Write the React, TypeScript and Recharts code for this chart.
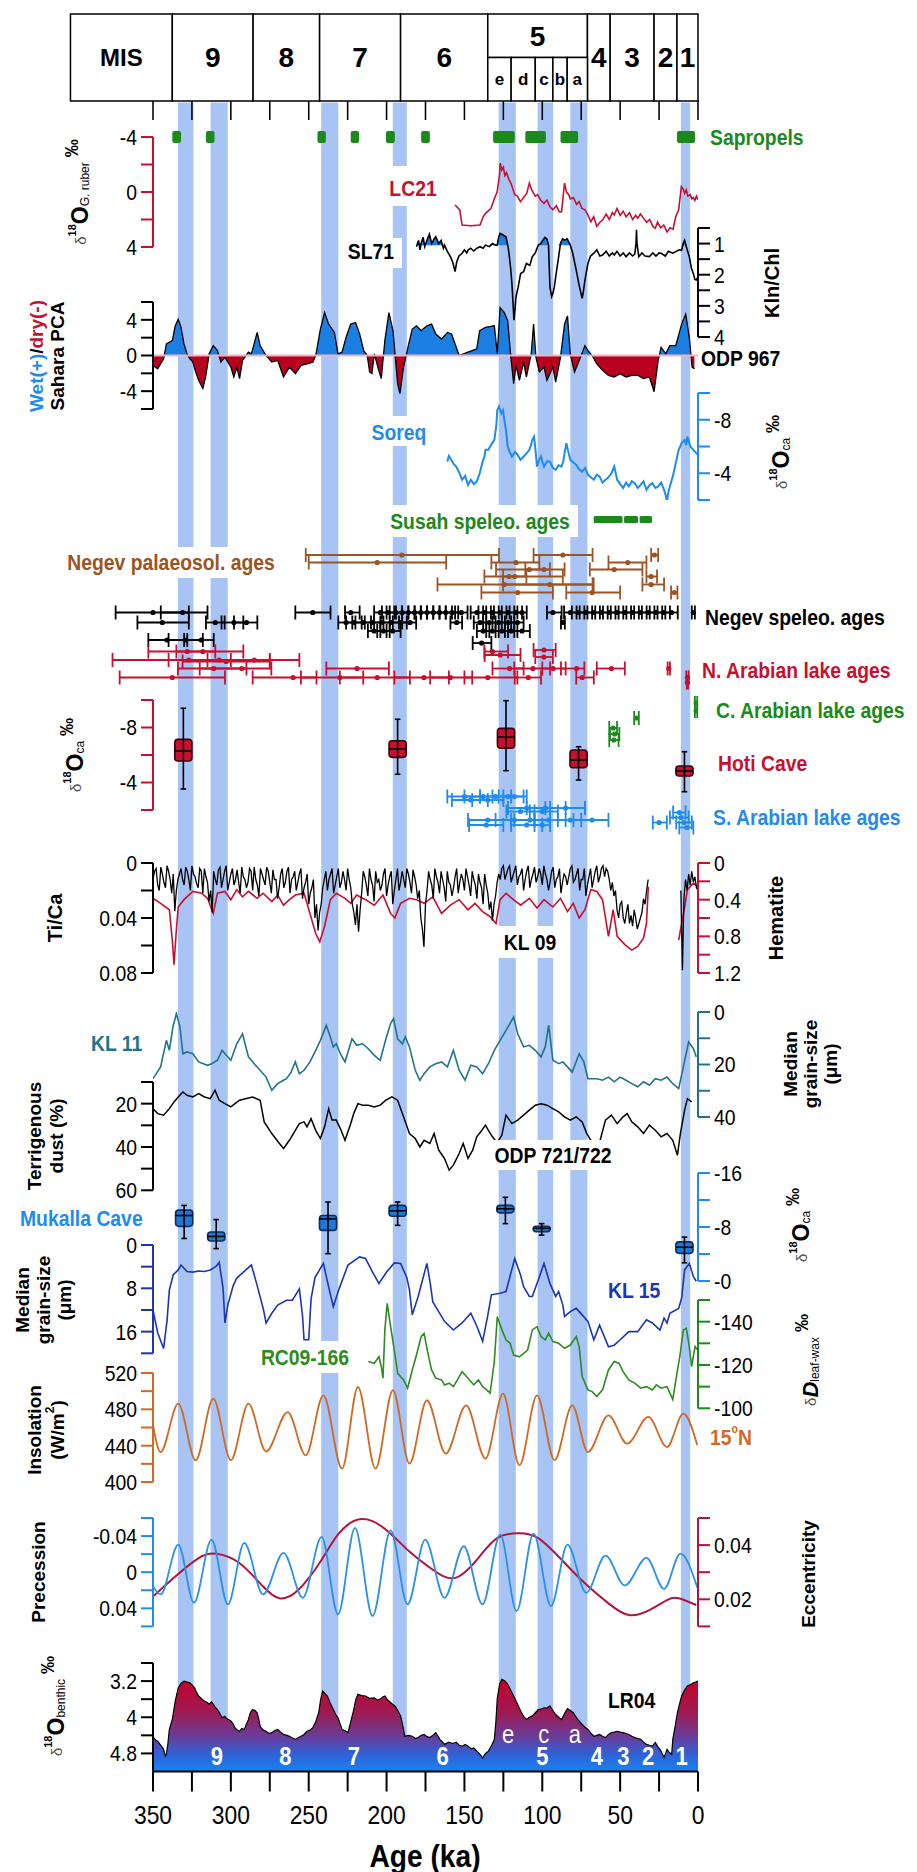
import React from 'react';
import { ComposedChart, Line, Area, XAxis, YAxis, ReferenceArea, ReferenceLine, Scatter, ErrorBar } from 'recharts';

const FONT_N = "'Liberation Sans',Arial,Helvetica,sans-serif";
const FONT_W = "'Liberation Sans',Arial,Helvetica,sans-serif";
const NARROW = 0.88;
const PAGE_W = 917;
const PLOT_L = 153;
const PLOT_R = 698;
const PX_PER_KA = (PLOT_R - PLOT_L) / 350;

const RED = '#c8102e';
const BLUE = '#1f8bef';
const GREEN = '#1b8a1b';
const BROWN = '#9c5424';
const TEAL = '#22738a';
const NAVY = '#1d35b5';
const ORANGE = '#cf6a26';
const BAND = '#a7c4f5';

// ---------- categories / ticks ----------
const axisTicks = [0, 25, 50, 75, 100, 125, 150, 175, 200, 225, 250, 275, 300, 325, 350];
const misNames = ['MIS', '9', '8', '7', '6', '5', '4', '3', '2', '1'];
const misOld = [403, 337.6, 285.7, 243, 191, 135, 71, 56.4, 28.2, 13.5];
const misYoung = [337.6, 285.7, 243, 191, 135, 71, 56.4, 28.2, 13.5, 0];
const subNames = ['e', 'd', 'c', 'b', 'a'];
const subOld = [135, 120, 104.5, 93.2, 84];
const subYoung = [120, 104.5, 93.2, 84, 71];
const bandOld = [334, 313, 242, 196, 128, 103, 82, 11];
const bandYoung = [324, 302, 231, 187, 117, 93, 71, 5];
const sapOld = [337.6, 316, 244.4, 223, 200.4, 177.8, 131.6, 110.9, 88.3, 13.5];
const sapYoung = [332, 310.5, 239, 217.7, 194.7, 172.2, 117.7, 97.7, 77, 1.9];
const lrStageNames = ['9', '8', '7', '6', '5', '4', '3', '2', '1'];
const lrStageAge = [309, 265, 221, 164, 100, 65, 48, 32, 10.5];
const lrSubNames = ['e', 'c', 'a'];
const lrSubAge = [122, 99, 79];

// ---------- series ----------
const lc21 = [[156,0.95],[153,1.3],[151.5,2.4],[146,2.45],[140,2.4],[138,1.8],[136.5,1.55],[133,1.2],[130.5,0.4],[129,0.0],[127.5,-1.2],[127,-2.1],[126,-1.6],[125,-1.8],[124,-1.2],[123,-1.4],[121.4,-0.9],[120,-0.6],[118.5,-0.1],[117.7,0.2],[116,0.3],[114,0.7],[112,0.4],[110,0.1],[108.3,-0.65],[107,-0.2],[105.5,0.1],[104.5,0.3],[103,0.2],[101,0.6],[98.9,0.82],[97,0.6],[95,1.1],[93.2,1.3],[91,1.0],[89,1.45],[87.6,1.43],[86.5,0.2],[85.7,-0.65],[84.5,0.0],[83,0.2],[82,0.5],[80,0.4],[78,0.9],[76.3,0.7],[74.5,1.2],[72.6,1.3],[71,1.6],[68.8,2.16],[67,1.8],[65,2.5],[63,2.2],[61.3,2.04],[59,1.6],[57,2.0],[55,1.5],[53.8,1.67],[52,1.2],[50,1.7],[48,1.4],[46.2,1.8],[44,1.5],[42,2.0],[40,1.7],[38.7,1.9],[37,1.6],[35,1.9],[33,2.2],[31,2.0],[29,2.5],[27.4,2.64],[26,2.2],[24,2.6],[22,2.4],[19.9,2.9],[18,2.6],[16,2.7],[14.3,1.8],[12.4,1.3],[11.5,0.4],[10.7,-0.39],[9.5,-0.2],[8.5,0.1],[7.5,-0.15],[6.5,0.3],[5,0.2],[4,0.5],[3,0.4],[2,0.6],[1,0.3],[0,0.55]];

const sl71 = [[180.8,1.1],[179.5,0.9],[178.5,1.2],[177.8,0.99],[176.5,0.8],[175.5,1.1],[174,0.89],[172.5,0.7],[171,1.0],[169.5,0.85],[168.4,0.78],[166.5,1.0],[165,0.9],[163.5,1.15],[162.8,1.05],[161,1.25],[159,1.42],[157.5,1.6],[156,1.9],[155,1.6],[153.5,1.4],[151.5,1.31],[150,1.2],[148.5,1.3],[147.7,1.21],[146,1.15],[144,1.24],[142,1.15],[140,1.1],[138,1.15],[136.5,1.05],[134,1.1],[132,1.0],[130,1.05],[129,1.05],[128,0.8],[127.1,0.67],[126,0.7],[124.5,0.75],[123.3,0.78],[122,1.1],[121.4,1.31],[120.3,1.8],[119.5,2.28],[118.8,2.9],[118.2,3.46],[117.5,3.1],[116.9,2.71],[115.5,2.4],[113.9,1.96],[112,1.9],[110.2,1.64],[108,1.7],[106.4,1.42],[104.5,1.3],[102.6,1.05],[101,1.0],[99.6,0.89],[98.3,0.8],[97,0.85],[96,1.05],[95.1,2.39],[94,2.7],[93.2,2.6],[92.3,2.4],[91.4,2.07],[90,1.6],[88.3,0.99],[87,0.85],[85.7,0.89],[84,0.85],[82,1.05],[80.5,1.3],[78.2,1.85],[76.5,2.3],[74.4,2.76],[73.5,2.5],[72.6,2.17],[70.7,1.64],[69,1.4],[66.9,1.31],[65,1.2],[63,1.4],[61.3,1.37],[59,1.25],[57,1.4],[55,1.3],[53.8,1.37],[52,1.25],[50,1.4],[48,1.3],[46.2,1.42],[44,1.3],[42,1.4],[40.6,1.34],[39.8,1.0],[39.5,0.56],[39.2,1.0],[38,1.42],[36,1.3],[34,1.4],[31.2,1.42],[29,1.3],[27,1.4],[25,1.3],[23.7,1.31],[21,1.4],[19,1.25],[16.2,1.31],[14,1.25],[12,1.2],[10.5,1.21],[9.5,1.0],[8.6,0.89],[7.5,1.1],[5.6,1.42],[4.2,1.8],[3,1.96],[2,2.15],[1.1,2.17],[0,2.07]];
const SL71_FILL_LEVEL = 1.05;

const pca = [[350,-1.11],[347,-1.48],[343.2,-0.37],[341.4,1.3],[337.6,1.67],[335.7,3.33],[333.8,4.07],[332,3.15],[330.1,1.3],[328.2,0.19],[326.3,-0.37],[324.4,-0.74],[322.6,-1.85],[320.7,-2.78],[318,-3.7],[316.2,-2.41],[313.9,0.19],[311.3,1.11],[308.6,0.56],[306.4,-0.74],[303.8,-0.19],[300,-1.3],[298.1,-2.41],[296.2,-1.3],[294.4,-2.59],[292.5,-0.56],[288.7,0.37],[286.8,0.19],[283.1,2.59],[281.2,1.11],[277.4,0],[273.7,-0.74],[269.9,-0.56],[266.2,-2.41],[262.4,-1.3],[258.6,-2.04],[254.9,-1.11],[251.1,-0.93],[247.4,-0.74],[245.5,0],[242.5,2.96],[239.8,4.81],[237.2,3.52],[233.5,2.59],[231.2,0.19],[228.6,0.37],[226,2.04],[223,3.52],[219.9,3.7],[217.3,2.41],[214.7,0.56],[212.4,0],[210.9,-1.85],[209.4,-2.04],[207.9,0.19],[205,-1.67],[203.4,-2.59],[201.1,1.67],[198.5,4.81],[195.9,2.78],[192.9,-3.15],[191.4,-4.26],[189.1,-1.3],[185.3,1.67],[183.5,2.96],[180.8,3.33],[177.8,2.78],[174.1,3.33],[171.1,3.52],[168.4,2.41],[164.7,1.85],[160.9,2.59],[158.3,2.41],[156,1.3],[153.4,0],[147.7,0.37],[142.1,0.74],[140.2,2.78],[136.5,3.15],[130.8,3.33],[128.9,0.19],[127.1,5.37],[124.4,4.81],[122.2,3.89],[120.3,0],[118.4,-3.15],[116.9,-1.11],[114.7,-2.78],[112,-0.74],[110.2,-2.41],[107.1,0.19],[105.6,3.52],[104.1,-0.19],[101.9,-1.85],[98.9,-1.3],[97,-2.78],[93.2,-1.3],[91.4,-3.0],[88.3,-0.19],[85.7,3.52],[83.8,4.44],[82,0.19],[79.3,-1.85],[76.3,-0.56],[72.6,1.11],[70.7,0.56],[68,0],[65,-0.93],[61.3,-1.67],[57.5,-2.22],[53.8,-2.41],[50,-2.04],[46.2,-2.41],[42.5,-2.22],[38.7,-2.22],[35,-2.59],[31.2,-2.41],[28.2,-4.07],[25.6,-0.56],[23.7,0.93],[20.7,0.19],[18.1,1.11],[14.3,1.11],[10.5,3.52],[7.9,4.63],[5.6,2.04],[3.8,-1.3],[2.3,-1.48]];

const soreq = [[161,-4.87],[160,-5.3],[159,-5.12],[157,-4.7],[155.3,-4.5],[153.5,-4.1],[151.5,-3.51],[149.5,-3.8],[147.7,-3.13],[145.9,-3.51],[144,-3.2],[142.1,-3.38],[140.2,-4.0],[138.3,-4.87],[137,-5.3],[136.5,-5.75],[134.6,-5.75],[132.5,-6.2],[130.8,-6.5],[129.5,-7.6],[128.9,-8.73],[127.8,-8.98],[126.3,-8.48],[125.2,-8.7],[124.4,-7.99],[123.3,-7.2],[122.2,-5.99],[121,-5.6],[119.5,-5.25],[117.5,-5.6],[115.8,-5.37],[114,-5.0],[112,-5.25],[110,-5.5],[108.3,-5.75],[107.2,-6.1],[106.4,-6.5],[105.3,-6.74],[104.4,-5.8],[103.4,-4.5],[102,-5.0],[100.8,-5.25],[99.8,-4.8],[98.9,-4.5],[97,-4.9],[95.1,-4.87],[93.2,-4.4],[91.4,-4.25],[89.5,-4.6],[87.6,-4.5],[86.5,-4.9],[85.7,-5.5],[84.5,-6.25],[83.3,-5.6],[82,-5.0],[80,-4.8],[78.2,-4.63],[76.3,-4.3],[74.4,-4.13],[72.5,-4.4],[70.7,-3.88],[68.8,-3.7],[66.9,-3.51],[65,-3.9],[63.2,-3.75],[61.3,-3.3],[59.4,-3.51],[57.5,-3.7],[55.6,-4.0],[53.8,-4.5],[51.9,-3.51],[50,-3.2],[48.1,-2.89],[46.2,-3.3],[44.4,-3.01],[42.5,-3.4],[40.6,-3.26],[38.7,-2.9],[36.8,-3.13],[35,-3.4],[33.1,-2.76],[31.2,-3.1],[29.3,-3.26],[27.4,-2.9],[25.6,-3.01],[23.7,-3.3],[21.8,-2.76],[20.8,-2.4],[19.9,-1.89],[19,-2.6],[18.1,-3.01],[16.2,-3.75],[14.3,-4.75],[12.4,-5.75],[10.5,-6.25],[8.6,-6.49],[7.6,-6.1],[6.8,-6.74],[4.9,-5.99],[3,-5.75],[1.1,-5.5],[0,-5.37]];

// age bars: [older, younger, mid, row]
const susahOld = [67, 47.5, 37.5];
const susahYoung = [48.5, 38.5, 29.5];
const negevPalaeo = [[251.9,127.8,190.2,10],[105.6,67.7,86.8,10],[30.1,25.6,28,10],[250,161.7,206,11.5],[132.7,101.9,116.9,11.5],[57.5,33.1,45.1,11.5],[129.7,85.7,108.3,12.9],[110.9,95.1,98.9,12.9],[69.5,35.7,53.8,12.9],[137.2,86.8,121.4,14.3],[125.2,110.2,117.7,14.3],[33.1,26.3,30.1,14.3],[167.3,67,124.4,15.9],[125.2,67.7,95.1,15.9],[35.7,21.8,30.1,15.9],[139.1,93.2,115.8,17.5],[84.6,50,68,17.5],[17.3,13.2,15.2,17.5]];
const negevSpeleo = [[374,327,350,21.5],[345,315,331,21.5],[258.6,236,247.4,21.5],[226.7,217.3,223,21.5],[208,200,204,21.5],[203,195,199,21.5],[198,190,194,21.5],[194,186,190,21.5],[190,182,186,21.5],[186,178,182,21.5],[182,174,178,21.5],[178,170,174,21.5],[174,166,170,21.5],[170,162,166,21.5],[166,158,162,21.5],[162,154,158,21.5],[156,148,152,21.5],[146,138,142,21.5],[141,133,137,21.5],[136,128,132,21.5],[131,123,127,21.5],[126,118,122,21.5],[121,113,117,21.5],[116,110,113,21.5],[97,87.6,93.2,21.5],[86,78,82,21.5],[81,73,77,21.5],[76,68,72,21.5],[71,63,67,21.5],[66,58,62,21.5],[61,53,57,21.5],[56,48,52,21.5],[51,43,47,21.5],[46,38,42,21.5],[41,33,37,21.5],[36,28,32,21.5],[31,23,27,21.5],[26,18,22,21.5],[21,13,17,21.5],[4,2,3,21.5],[360,327,344,23.5],[316,304,310,23.5],[306,292,298,23.5],[298,283,290,23.5],[231,222,226,23.5],[226,216,221,23.5],[220,210,215,23.5],[214,204,209,23.5],[208,198,203,23.5],[202,192,197,23.5],[196,187,191,23.5],[190,181,185,23.5],[159,151.5,155,23.5],[144,136,140,23.5],[138,130,134,23.5],[132,124,128,23.5],[126,118,122,23.5],[120,112,116,23.5],[88,85.5,86.8,23.5],[212,204,208,25.2],[206,198,202,25.2],[200,191,196,25.2],[142,134,138,25.2],[136,128,132,25.2],[130,122,126,25.2],[124,116,120,25.2],[118,108,113,25.2],[353,330,341,27],[340,318,329,27],[328,311,319,27],[144.7,132.7,139,27.6]];
const nArabian = [[353,310,328,29.3],[335,292,318,29.3],[137.2,122,132,29.3],[105.6,91.4,98.9,29],[137,114,127,30],[104.5,93.2,99,30.4],[376,300,327,31],[340,275,307.5,31],[315,256,285,31],[331,275,303,31.3],[334,290,311,32.7],[320,274,293,32.7],[238.7,198.5,219,32.7],[132,112,121,32.7],[118,95,106,32.7],[100,85,93,32.7],[88,73,78,32.7],[65,47,55.6,32.7],[19.5,18,18.8,32.7],[371.4,303.8,337.6,34.5],[286,245,260,34.5],[255,215,230,34.5],[230,185,206,34.5],[195,160,176,34.5],[172,145,159,34.5],[150,116,135,34.5],[117.7,100.8,109,34.5],[78.2,66.9,74.4,34.5],[7.5,6,6.8,34.5],[7.2,6.4,6.8,35.5]];
const cArabian = [[2,0.5,1.2,39.6],[2,0.5,1.2,41.2],[41,38,39.5,42.6],[57,52,54.5,44.6],[56.5,50.5,53.5,45.8],[57,51,54,47]];
const sArabian = [[161,140,150,58.3],[150,128,138,58.3],[140,120,130,58.3],[132,112,122,58.3],[125,110,118,58.3],[158,135,146,59],[145,125,135,59],[122,95,110,60.6],[110,85,98,60.6],[98,72.6,85,60.6],[123,105,114,61.3],[108,90,100,61.3],[147.7,120,135,63],[130,105,118,63],[118,95,108,63],[105,85,96,63],[90,75,82,63],[80,57.5,68,63],[147,125,136,64],[120,100,110,64],[105,95,100,64],[16,8,12,61.5],[18,6,11,62.5],[29,20,25,63.5],[14,4,9,63.5],[12,3,7,64.5]];

// Hoti Cave box plots
const hotiAge = [330.5, 192.9, 123.3, 76.7, 8.7];
const hotiLow = [-9.4, -8.6, -9.95, -6.6, -6.24];
const hotiQ1 = [-7.14, -7.04, -7.94, -6.36, -5.2];
const hotiMed = [-6.3, -6.44, -7.3, -5.64, -4.84];
const hotiQ3 = [-5.56, -5.83, -6.49, -5.08, -4.47];
const hotiHigh = [-3.53, -4.6, -4.86, -4.18, -3.33];

// Mukalla Cave box plots
const mukAge = [330, 309.4, 237.6, 192.9, 123.7, 100.4, 8.7];
const mukLow = [-11.2, -9.1, -11.7, -11.7, -12.4, -8.5, -6.5];
const mukQ1 = [-10.5, -7.26, -9.7, -11.2, -11.2, -8.1, -5.8];
const mukMed = [-9.7, -6.6, -9.2, -10.4, -10.7, -7.8, -5.0];
const mukQ3 = [-8.1, -5.93, -7.5, -9.6, -10.1, -7.3, -4.1];
const mukHigh = [-6.3, -4.8, -4.05, -8.25, -8.5, -6.8, -2.7];

const tiCa = [[350,.012],[349,.006],[348,.004],[347,.016],[346,.02],[345,.003],[344,.008],[343,.014],[342,.018],[341,.002],[340,.006],[339,.012],[338,.022],[337,.008],[336,.035],[335,.02],[334,.012],[333,.008],[332,.004],[331,.012],[330,.016],[329,.003],[328,.006],[327,.012],[326,.02],[325,.002],[324,.008],[323,.01],[322,.015],[321,.018],[320,.004],[319,.006],[318,.022],[317,.004],[316,.01],[315,.014],[314,.028],[313,.02],[312,.036],[311,.006],[310,.012],[309,.016],[308,.005],[307,.003],[306,.018],[305,.012],[304,.006],[303,.002],[302,.02],[301,.014],[300,.008],[299,.004],[298,.016],[297,.012],[296,.005],[295,.014],[294,.022],[293,.003],[292,.01],[291,.012],[290,.018],[289,.014],[288,.004],[287,.006],[286,.02],[285,.003],[284,.012],[283,.016],[282,.024],[281,.004],[280,.008],[279,.012],[278,.016],[277,.003],[276,.006],[275,.014],[274,.022],[273,.005],[272,.012],[271,.012],[270,.026],[269,.018],[268,.008],[267,.004],[266,.018],[265,.014],[264,.006],[263,.003],[262,.022],[261,.012],[260,.01],[259,.006],[258,.02],[257,.014],[256,.008],[255,.004],[254,.026],[253,.018],[252,.014],[251,.008],[250,.03],[249,.022],[248,.018],[247,.012],[246,.04],[245,.03],[244,.049],[243,.036],[242,.03],[241,.018],[240,.012],[239,.006],[238,.02],[237,.012],[236,.008],[235,.004],[234,.022],[233,.016],[232,.01],[231,.004],[230,.018],[229,.014],[228,.006],[227,.012],[226,.02],[225,.004],[224,.012],[223,.018],[222,.03],[221,.036],[220,.045],[219,.03],[218,.05],[217,.034],[216,.022],[215,.006],[214,.01],[213,.016],[212,.024],[211,.004],[210,.012],[209,.016],[208,.028],[207,.006],[206,.014],[205,.012],[204,.02],[203,.016],[202,.008],[201,.004],[200,.024],[199,.016],[198,.01],[197,.006],[196,.03],[195,.02],[194,.012],[193,.004],[192,.02],[191,.014],[190,.006],[189,.012],[188,.018],[187,.004],[186,.008],[185,.014],[184,.022],[183,.005],[182,.01],[181,.016],[180,.026],[179,.02],[178,.04],[177,.048],[176,.061],[175,.03],[174,.02],[173,.006],[172,.012],[171,.016],[170,.026],[169,.004],[168,.01],[167,.014],[166,.022],[165,.006],[164,.012],[163,.018],[162,.028],[161,.006],[160,.014],[159,.016],[158,.024],[157,.018],[156,.01],[155,.004],[154,.022],[153,.014],[152,.008],[151,.012],[150,.02],[149,.004],[148,.01],[147,.016],[146,.024],[145,.006],[144,.012],[143,.016],[142,.026],[141,.008],[140,.014],[139,.018],[138,.03],[137,.008],[136,.016],[135,.022],[134,.034],[133,.028],[132,.042],[131,.03],[130,.024],[129,.014],[128,.008],[127,.012],[126,.004],[125,.002],[124,.012],[123,.008],[122,.004],[121,.002],[120,.014],[119,.01],[118,.006],[117,.002],[116,.016],[115,.01],[114,.008],[113,.004],[112,.02],[111,.012],[110,.006],[109,.002],[108,.018],[107,.012],[106,.008],[105,.003],[104,.014],[103,.01],[102,.004],[101,.008],[100,.016],[99,.002],[98,.008],[97,.012],[96,.02],[95,.014],[94,.006],[93,.003],[92,.018],[91,.012],[90,.01],[89,.004],[88,.022],[87,.014],[86,.008],[85,.01],[84,.016],[83,.01],[82,.004],[81,.002],[80,.014],[79,.012],[78,.008],[77,.004],[76,.02],[75,.012],[74,.012],[73,.004],[72,.024],[71,.016],[70,.01],[69,.004],[68,.018],[67,.012],[66,.006],[65,.002],[64,.014],[63,.01],[62,.004],[61,.002],[60,.01],[59,.004],[58,.006],[57,.012],[56,.02],[55,.014],[54,.024],[53,.02],[52,.034],[51,.04],[50,.03],[49,.028],[48,.04],[47,.044],[46,.036],[45,.03],[44,.044],[43,.038],[42,.046],[41,.034],[40,.04],[39,.048],[38,.044],[37,.04],[36,.036],[35,.026],[34,.03],[33,.02],[32,.012],[20,null],[11,.02],[10,.078],[9.5,.05],[9,.025],[8,.012],[7,.02],[6,.008],[5,.016],[4,.006],[3,.014],[2,.01],[1,.018],[0,.02]];

const hematite = [[350,0.385],[345.1,0.44],[339.5,0.51],[337.6,0.84],[336.5,1.11],[335,0.73],[333.8,0.48],[330.1,0.4],[324.4,0.31],[318.8,0.33],[315,0.385],[311.3,0.55],[308.6,0.33],[303.8,0.31],[300,0.4],[296.2,0.29],[292.5,0.37],[288.7,0.31],[283.1,0.385],[279.3,0.33],[273.7,0.42],[269.9,0.35],[266.2,0.46],[262.4,0.4],[258.6,0.35],[253,0.33],[249.2,0.55],[245.5,0.77],[242.9,0.86],[239.8,0.69],[236.1,0.4],[232.3,0.33],[226.7,0.385],[223,0.44],[219.2,0.35],[213.5,0.4],[207.9,0.46],[202.3,0.35],[197.4,0.55],[194.7,0.6],[191,0.44],[185.3,0.385],[180.8,0.4],[175.9,0.44],[170.3,0.37],[164.7,0.55],[159,0.46],[153.4,0.4],[147.7,0.51],[143.2,0.44],[138.3,0.53],[133.5,0.585],[129.7,0.66],[127.1,0.4],[123.3,0.33],[119.5,0.385],[113.9,0.46],[108.3,0.385],[103.4,0.49],[98.9,0.4],[93.2,0.48],[88.3,0.385],[83.8,0.53],[80.1,0.44],[76.3,0.6],[72.6,0.51],[68.8,0.29],[65,0.31],[61.3,0.4],[57.5,0.8],[54.5,0.51],[51.9,0.8],[47,0.89],[42.5,0.95],[38.7,0.91],[35,0.82],[33.1,0.66],[31.9,0.26],[20,null],[12.4,0.84],[8.6,0.48],[6.8,0.29],[3,0.22],[0,0.26]];

const kl11 = [[350,25.4],[345.1,20.9],[341.4,10.8],[339.5,14.6],[337.2,5.7],[335,0.6],[332.7,5.7],[330.8,15.9],[328.2,15.2],[324.4,15.9],[320.7,19.0],[315,20.3],[312.4,19.7],[308.6,18.4],[305.6,14.6],[303.8,15.9],[300,18.4],[296.2,12.1],[292.5,8.3],[288.7,17.1],[285,19.7],[281.2,22.2],[277.4,24.8],[273.7,29.8],[269.9,27.3],[266.2,26.0],[264.3,25.4],[261.3,22.9],[258.6,19.0],[256,23.5],[253,22.2],[249.2,19.0],[245.5,14.6],[242.5,10.8],[238.7,5.1],[236.1,9.5],[234.2,13.3],[232.3,12.1],[229.7,15.9],[226.7,19.0],[222.2,10.2],[219.2,12.7],[215.4,12.1],[211.7,14.0],[207.9,16.5],[204.1,18.4],[200.4,10.2],[197.4,4.4],[195.5,2.5],[192.9,10.2],[189.8,12.1],[188,9.5],[185.3,13.3],[181.6,22.2],[178.6,26.0],[175.9,23.5],[172.2,20.9],[168.4,19.7],[164.7,19.0],[160.9,20.9],[157.1,14.6],[153.4,22.2],[149.6,26.0],[145.9,20.3],[142.1,20.9],[138.3,23.5],[134.6,19.7],[130.8,14.6],[127.1,10.8],[123.3,7.0],[118.4,1.9],[115.8,8.3],[112,13.3],[108.3,12.7],[104.5,14.6],[100.8,17.1],[98.1,13.3],[95.9,5.1],[93.2,18.4],[89.5,19.7],[86.8,19.0],[83.8,20.9],[80.8,22.9],[76.3,15.9],[73.3,19.0],[70.7,25.4],[65,25.4],[61.3,26.0],[57.5,24.8],[53.8,26.6],[50,24.8],[46.2,26.0],[42.5,27.3],[38.7,28.5],[35,26.6],[31.2,27.9],[27.4,25.4],[23.7,26.0],[19.9,24.8],[16.2,27.3],[12.4,29.2],[9.4,20.9],[6,11.4],[3,13.9],[1.1,17.1]];

const odp = [[350,22.3],[347,24.6],[343.2,25.3],[339.5,22.3],[336.5,19.2],[333.8,16.9],[330.8,14.6],[328.2,16.1],[324.4,16.9],[320.7,15.4],[316.9,16.9],[313.2,17.7],[310.2,13.8],[307.5,18.4],[303.8,20.0],[300,21.5],[297.4,20.0],[294.4,18.4],[290.6,17.7],[286.1,16.9],[281.2,18.4],[278.6,28.4],[273.7,33.8],[268.8,38.4],[266.2,40.7],[262.4,36.9],[258.6,32.3],[256,29.2],[253,28.4],[251.1,30.7],[248.5,26.9],[245.5,32.3],[242.5,36.1],[239.8,30.7],[237.2,22.3],[235,27.6],[232.3,27.6],[229.7,31.5],[226.7,36.9],[223,29.2],[221.1,24.6],[218.4,20.0],[215.4,20.7],[211.7,20.7],[207.9,21.5],[204.1,20.7],[200.4,18.4],[196.6,16.9],[192.9,18.4],[189.1,26.1],[185.3,33.8],[181.6,36.1],[178.6,40.0],[175.9,36.9],[172.2,38.4],[169.5,33.8],[166.5,41.5],[162.8,45.3],[159.8,50.7],[157.1,48.4],[153.4,43.0],[150.8,38.4],[147.7,45.3],[144.7,41.5],[142.1,35.3],[139.5,33.0],[136.5,29.9],[134.6,32.3],[132,35.3],[129,38],[126,34.6],[123.3,25.3],[119.5,29.2],[115.8,27.6],[112,25.3],[108.3,23.0],[104.5,20.7],[100.8,20.0],[97,20.7],[93.2,22.3],[89.5,23.8],[85.7,26.1],[82,27.6],[78.2,26.1],[74.4,28.4],[71.4,33.8],[68.8,36.9],[64,40],[59.4,27.6],[55.6,25.3],[51.9,29.2],[48.1,26.1],[45.5,24.6],[42.5,28.4],[38.7,30.7],[35,33.8],[31.2,29.9],[27.4,32.3],[23.7,35.3],[19.9,33.8],[16.2,36.9],[13.2,43.8],[11.3,33.8],[8.6,23.0],[6.8,17.7],[4.1,19.2]];

const kl15 = [[350,12],[347,16.2],[343.2,19.1],[341,14],[339.5,8.3],[337,5.5],[333.8,4.6],[332,3.7],[328.2,4.9],[324.4,5.0],[320.7,4.8],[317,4.9],[313.2,4.6],[309.4,3.9],[307.5,3.2],[305,8],[303.8,14.4],[301.9,11],[298.5,7.5],[296.2,6.1],[290,4.5],[286.8,3.7],[283.1,7.5],[279,12],[277.4,14.4],[273.7,12.6],[269.9,11.1],[264.3,10.2],[260.5,10.2],[256,8.1],[254,13],[253,17.5],[250,17.5],[248.5,10],[246,6],[240.6,3.4],[237,8],[234.2,11.4],[230.5,8.1],[224.8,3.7],[217.3,2.2],[213.5,2.5],[209,5],[204.9,7.1],[200,5],[195,3.3],[191,3.4],[187,6],[185.3,8.3],[183.5,12.9],[179.7,9.5],[174.1,3.4],[172,7],[170.3,10.5],[162.8,14.1],[157.1,15.7],[151.5,14.4],[145.9,12.6],[142,15],[138.3,17.8],[135,13],[132.7,9.2],[127.1,8.9],[123.3,8.6],[117.7,2.5],[114,5.5],[112,7.7],[108.3,9.5],[106.4,9.5],[102,6],[98.9,3.4],[95.1,7.1],[91.4,9.5],[89.5,8.6],[86.8,11.1],[85.7,13.2],[82,12.3],[78.2,11.7],[74.4,12.9],[70.7,14.1],[66.9,17.5],[63.2,14.8],[57.5,18.8],[53.8,18.5],[50,17.5],[44.4,16],[38.7,16],[33.1,13.8],[29.3,14.4],[24.4,15.7],[21.8,13.5],[19.9,14.4],[18.1,12.6],[12.4,11.7],[10.5,9.8],[8.6,4.6],[5.6,3.4],[3,5.8],[1.1,6.7]];

const rc09 = [[211.7,-121.6],[207.9,-120.8],[204.9,-123.8],[203.4,-119.2],[202.3,-113.9],[201.1,-136.2],[199.6,-148.5],[197.4,-137.7],[194.7,-125.4],[192.9,-116.2],[189.1,-113.1],[186.5,-109.3],[183.5,-117.7],[180.8,-124.6],[177.8,-133.1],[175.9,-134.6],[174.1,-127.7],[171.1,-117.7],[168.4,-113.9],[164.7,-113.1],[162.8,-110.8],[159.8,-111.6],[157.1,-110],[154.5,-113.1],[151.5,-116.9],[147.7,-113.9],[144,-110.8],[141,-113.1],[138.3,-110],[135.7,-108.5],[133.5,-107],[130.8,-121.6],[128.9,-142.3],[125.9,-136.2],[123.3,-131.6],[120.7,-130],[118.4,-124.6],[114.7,-123.8],[112,-125.4],[109.4,-126.9],[106.4,-136.2],[103.4,-137.7],[100.8,-133.1],[98.1,-131.6],[95.9,-134.6],[93.2,-130.8],[89.5,-130],[85.7,-127.7],[82,-129.2],[78.2,-133.1],[76.3,-128.5],[74.4,-114.7],[70.7,-108.5],[68,-107.7],[65,-105.4],[61.3,-108.5],[57.5,-117.7],[53.8,-121.6],[50.8,-120.8],[48.1,-116.9],[44.4,-113.1],[40.6,-111.6],[36.8,-109.3],[33.1,-110],[29.3,-108.5],[26.7,-110.8],[23.7,-109.3],[19.9,-110],[16.2,-104.1],[13.5,-116.2],[11.7,-123.8],[9.4,-136.2],[7.5,-137],[5.6,-128.5],[4.1,-119.2],[1.9,-128.5],[0.4,-127]];

const insolation = [[350,462.4],[345.1,433],[333.8,486.3],[322.6,423.8],[311.3,491.8],[300,424],[288.7,486.3],[277.4,433.6],[263.5,477],[251.9,429.4],[240.6,495.4],[228.6,414.7],[218.4,504.6],[207.1,414.7],[195.9,501],[185.3,420.2],[174.1,490],[162,431.2],[148.9,484.4],[136.5,425.7],[125.2,497.3],[114.7,418.4],[103.4,495.4],[92.1,424],[80.8,484.4],[70.7,433],[57.5,473.4],[45.5,442.2],[31.9,471.6],[19.9,438.5],[9.4,475.3],[0.4,440.4]];

const precession = [[350,0.0154],[345.1,0.0246],[333.8,-0.0305],[323.7,0.0338],[312.4,-0.036],[301.9,0.0356],[291.4,-0.0324],[279.3,0.0246],[266.2,-0.0214],[253.8,0.0283],[241.7,-0.039],[231.2,0.0467],[220.3,-0.049],[209,0.0485],[197.4,-0.0463],[186.5,0.0356],[175.2,-0.036],[162.8,0.0283],[150.4,-0.0287],[138.4,0.0356],[127,-0.0416],[116.5,0.043],[105.6,-0.0427],[94.4,0.0375],[83.8,-0.0305],[71.8,0.0228],[59.4,-0.0184],[47,0.0147],[33.1,-0.0158],[21.8,0.0184],[11.3,-0.0206],[0.4,0.0172]];

const eccentricity = [[350,0.021],[335.7,0.0284],[320.7,0.0352],[309.4,0.0368],[294.4,0.0333],[279.3,0.0247],[268.8,0.0204],[256.8,0.0234],[241.7,0.0346],[230.5,0.0444],[216.2,0.0496],[200.4,0.0457],[185.3,0.0376],[170.3,0.0309],[155.3,0.028],[140.2,0.0358],[129,0.0426],[115.8,0.0444],[102.6,0.0426],[87.6,0.0346],[72.6,0.0259],[57.5,0.0185],[44.4,0.0142],[31.2,0.016],[19.9,0.0197],[12.4,0.0204],[1.1,0.0179]];

const lr04 = [[350,4.42],[348.5,4.5],[347,4.53],[345,4.62],[343.2,4.71],[342,4.86],[341.4,4.82],[340.5,4.6],[339.5,4.27],[337.6,4.05],[335.7,3.64],[333.8,3.35],[332,3.25],[330.1,3.2],[328,3.22],[326.3,3.24],[324.5,3.3],[323.3,3.35],[322,3.45],[320.7,3.53],[318.5,3.6],[316.9,3.64],[315,3.68],[313.9,3.71],[312.5,3.66],[311.3,3.71],[310,3.78],[308.6,3.83],[307,3.92],[305.6,4.01],[304,3.98],[302.6,4.03],[301,4.06],[300,4.08],[298.5,4.15],[297.4,4.23],[296,4.28],[294.4,4.31],[293,4.25],[291.4,4.27],[290,4.15],[288.7,4.05],[287.5,3.9],[286.1,3.83],[284.5,3.85],[283.1,3.9],[282,4.05],[281.2,4.2],[279.5,4.28],[277.4,4.31],[275.5,4.36],[273.7,4.34],[272,4.3],[269.9,4.27],[268,4.33],[266.2,4.38],[264,4.4],[262.4,4.42],[260.5,4.46],[258.6,4.49],[256.5,4.45],[254.9,4.42],[253,4.38],[251.1,4.31],[249,4.28],[247.4,4.23],[245.5,4.1],[243.6,3.9],[242.3,3.6],[241,3.42],[239.5,3.48],[238,3.53],[236,3.7],[234.2,3.83],[232.5,3.95],[231.2,4.01],[229.8,4.15],[228.6,4.27],[226.5,4.3],[224.8,4.34],[223,4.1],[221.1,3.83],[219.7,3.6],[218.4,3.49],[216,3.52],[213.5,3.53],[211,3.58],[207.9,3.57],[206,3.62],[204.1,3.6],[202.5,3.55],[201.1,3.53],[199.7,3.6],[198.5,3.64],[196.5,3.7],[194.7,3.75],[192.8,3.85],[191,3.97],[189.5,4.2],[188.3,4.42],[186,4.4],[183.5,4.42],[181.5,4.47],[179.7,4.45],[177.8,4.4],[175.9,4.38],[174,4.43],[172.2,4.45],[170.3,4.4],[168.4,4.34],[167,4.42],[165.8,4.49],[164,4.55],[162.8,4.6],[160,4.55],[157.5,4.58],[155.3,4.55],[153.4,4.62],[151.5,4.64],[149.5,4.6],[147.7,4.64],[145.5,4.7],[144,4.68],[142.1,4.75],[140,4.82],[138.3,4.9],[136.5,4.8],[134.6,4.75],[132.5,4.62],[130.8,4.49],[129.8,4.1],[128.9,3.58],[127.3,3.25],[125.9,3.16],[124,3.2],[122.2,3.27],[120.3,3.4],[118.4,3.53],[116,3.7],[113.9,3.86],[112,3.98],[110.2,4.05],[108.3,4.0],[106.4,3.97],[104.5,3.9],[102.6,3.83],[100.8,3.82],[98.9,3.79],[97,3.8],[95.1,3.75],[93.2,3.85],[91.4,3.94],[89.5,4.0],[87.6,4.05],[85.7,3.92],[83.8,3.81],[82,3.85],[80.1,3.9],[77.2,4.05],[74.4,4.16],[72.6,4.22],[70.7,4.27],[68.8,4.35],[66.9,4.42],[65,4.4],[63.2,4.38],[61.3,4.42],[59.4,4.45],[57.5,4.38],[55.6,4.34],[53.8,4.33],[51.9,4.31],[50,4.33],[48.1,4.34],[46.2,4.36],[44.4,4.38],[42.5,4.42],[40.6,4.45],[38.7,4.47],[36.8,4.49],[35,4.55],[33.1,4.6],[31.2,4.62],[29.3,4.64],[27.4,4.56],[25.9,4.65],[24.4,4.71],[23,4.8],[21.8,4.89],[20.8,4.8],[19.9,4.71],[18.4,4.78],[16.9,4.82],[16.2,4.49],[14.7,4.2],[13.2,3.9],[11.8,3.7],[10.5,3.53],[8.6,3.4],[6.8,3.31],[5,3.28],[3,3.24],[1.5,3.22],[0,3.2]];

// ---------- helpers ----------
const toRows = (pairs: any[]) => pairs.map((p) => ({ a: p[0], v: p[1] }));
const px = (ka: number) => PLOT_L + (350 - ka) * PX_PER_KA;
const BOX_HALF = 5.5;
const CAP = 1.8;
const BAND_TOP = 100;
const BAND_H = 1672;
const TOP_TICK_FRAC = 20 / BAND_H; // tick length as fraction of the band strip
const TOP_TICK_HALF = 0.5; // ka

function Panel({ top, height, minKa = 0, maxKa = 350, leftW = 0, rightW = 0, marginTop = 0, xAxis, children }: any) {
  const plotLeft = PLOT_L - (maxKa - 350) * PX_PER_KA;
  const plotRight = PLOT_R + (0 - minKa) * PX_PER_KA;
  return (
    <div style={{ position: 'absolute', left: 0, top, width: PAGE_W, height }}>
      <ComposedChart width={PAGE_W} height={height}
        margin={{ top: marginTop, bottom: 0, left: plotLeft - leftW, right: PAGE_W - plotRight - rightW }}>
        {xAxis ?? <XAxis xAxisId={0} type="number" dataKey="a" domain={[minKa, maxKa]} reversed hide allowDataOverflow />}
        {children}
      </ComposedChart>
    </div>
  );
}

// invisible anchor series so that the x scale exists in panels holding only reference marks
function anchor(key: string, yId: string, ages: number[], val: number) {
  return (
    <Line key={key} yAxisId={yId} data={ages.map((a) => ({ a, v: val }))} dataKey="v" stroke="none"
      dot={false} isAnimationActive={false} legendType="none" />
  );
}

function makeTick(fmt: (v: number) => string, size = 22, vertical = 'central') {
  return (props: any) => {
    const { x, y, payload, textAnchor } = props;
    const s = fmt(payload.value);
    if (!s) return <g />;
    return (
      <g transform={`translate(${x},${y})`}>
        <text transform={`scale(${NARROW},1)`} textAnchor={textAnchor} dominantBaseline={vertical}
          fontSize={size} fontFamily={FONT_N} fill="#000">{s}</text>
      </g>
    );
  };
}

function yAx(o: any) {
  const fmt = (v: number) => (o.labels.includes(v) ? (o.fmt ? o.fmt(v) : String(v)) : '');
  return (
    <YAxis key={'y' + o.id} yAxisId={o.id} orientation={o.side} type="number" domain={o.domain}
      reversed={!!o.reversed} ticks={o.ticks} interval={0} width={60} allowDataOverflow
      axisLine={{ stroke: o.color, strokeWidth: 2 }} tickLine={{ stroke: o.color, strokeWidth: 2 }}
      tickSize={12} tickMargin={4} tick={makeTick(fmt)} />
  );
}

function line(key: string, yId: string, pairs: any[], color: string, width = 1.6, type: any = 'linear') {
  return (
    <Line key={key} yAxisId={yId} data={toRows(pairs)} dataKey="v" type={type} stroke={color}
      strokeWidth={width} dot={false} isAnimationActive={false} connectNulls={false} />
  );
}

function ageBars(key: string, list: number[][], color: string) {
  const data = list.map((b) => ({ a: b[2], r: b[3], e: [b[2] - b[1], b[0] - b[2]] }));
  return (
    <Scatter key={key} yAxisId="r" data={data} fill={color} isAnimationActive={false}
      shape={(p: any) => <circle cx={p.cx} cy={p.cy} r={2.6} fill={color} />}>
      <ErrorBar dataKey="e" direction="x" width={7} stroke={color} strokeWidth={1.8} isAnimationActive={false} />
    </Scatter>
  );
}

function boxPlots(key: string, yId: string, ages: number[], lo: number[], q1: number[], med: number[], q3: number[], hi: number[], fill: string, edge: string) {
  const out: any[] = [];
  ages.forEach((a, i) => {
    out.push(<ReferenceLine key={key + 'w' + i} yAxisId={yId} segment={[{ x: a, y: lo[i] }, { x: a, y: hi[i] }]} stroke="#000" strokeWidth={1.6} />);
    out.push(<ReferenceLine key={key + 'c' + i} yAxisId={yId} segment={[{ x: a + CAP, y: lo[i] }, { x: a - CAP, y: lo[i] }]} stroke="#000" strokeWidth={1.6} />);
    out.push(<ReferenceLine key={key + 'd' + i} yAxisId={yId} segment={[{ x: a + CAP, y: hi[i] }, { x: a - CAP, y: hi[i] }]} stroke="#000" strokeWidth={1.6} />);
    out.push(<ReferenceArea key={key + 'b' + i} yAxisId={yId} x1={a + BOX_HALF} x2={a - BOX_HALF} y1={q1[i]} y2={q3[i]} fill={fill} fillOpacity={1} stroke={edge} strokeWidth={1.6} radius={3} />);
    out.push(<ReferenceLine key={key + 'm' + i} yAxisId={yId} segment={[{ x: a + BOX_HALF, y: med[i] }, { x: a - BOX_HALF, y: med[i] }]} stroke="#000" strokeWidth={1.6} />);
  });
  return out;
}

function VT({ x, y, children, size = 20, color = '#000', weight = 700, font = FONT_W }: any) {
  return (
    <text transform={`translate(${x},${y}) rotate(-90)`} textAnchor="middle" dominantBaseline="central"
      fontSize={size} fontWeight={weight} fill={color} fontFamily={font}>{children}</text>
  );
}

function Lbl({ x, y, children, color = '#000', anchor = 'start', size = 22, weight = 700 }: any) {
  return (
    <g transform={`translate(${x},${y})`}>
      <text transform={`scale(${NARROW},1)`} textAnchor={anchor} dominantBaseline="central" fontSize={size}
        fontWeight={weight} fill={color} fontFamily={FONT_N}>{children}</text>
    </g>
  );
}

function DeltaO({ x, y, sub, pre = '18O' }: any) {
  return (
    <VT x={x} y={y} size={22}>
      <tspan fontSize={15} fontWeight={400} fill="#555">δ</tspan>
      <tspan fontSize={11} dy={-8}>{pre.slice(0, 2)}</tspan>
      <tspan fontSize={23} dy={8}>{pre.slice(2)}</tspan>
      <tspan fontSize={12} fontWeight={400} dy={5}>{sub}</tspan>
      <tspan fontSize={18} dy={-13}>{' ‰'}</tspan>
    </VT>
  );
}

const pcaVals = pca.map((p) => p[1]);
const pcaMax = Math.max(...pcaVals);
const pcaMin = Math.min(...pcaVals);
const pcaOff = pcaMax / (pcaMax - pcaMin);
const sl71Fill = sl71.map((p) => [p[0], Math.min(p[1], SL71_FILL_LEVEL)]);

export default function App() {
  return (
    <div style={{ position: 'absolute', left: 0, top: 0, width: 917, height: 1872, background: '#fff' }}>
      <style>{'.recharts-surface{overflow:visible}'}</style>

      {/* background bands + age ticks under the MIS header */}
      <Panel top={BAND_TOP} height={BAND_H} minKa={-2} maxKa={352}>
        <YAxis yAxisId="b" hide domain={[0, 1]} />
        {anchor('bandAnchor', 'b', bandOld, 0.5)}
        {bandOld.map((o, i) => (
          <ReferenceArea key={'band' + i} yAxisId="b" x1={o} x2={bandYoung[i]} y1={0.0005} y2={0.9985} fill={BAND} fillOpacity={1} stroke="none" />
        ))}
        {axisTicks.map((t) => (
          <ReferenceArea key={'tt' + t} yAxisId="b" x1={t + TOP_TICK_HALF} x2={t - TOP_TICK_HALF}
            y1={1 - TOP_TICK_FRAC} y2={0.9999} fill="#000" fillOpacity={1} stroke="none" />
        ))}
      </Panel>

      {/* MIS header */}
      <Panel top={0} height={101} maxKa={403} marginTop={14}>
        <YAxis yAxisId="m" hide domain={[0, 2]} />
        {anchor('misAnchor', 'm', misOld, 1)}
        {misNames.map((n, i) => (
          <ReferenceArea key={'mis' + i} yAxisId="m" x1={misOld[i]} x2={misYoung[i]} y1={n === '5' ? 1 : 0} y2={2}
            fill="#fff" fillOpacity={1} stroke="#000" strokeWidth={1.5}
            label={{ value: n, position: 'center', fontSize: n === 'MIS' ? 24 : 28, fontWeight: 700, fill: '#000', fontFamily: FONT_N }} />
        ))}
        {subNames.map((n, i) => (
          <ReferenceArea key={'sub' + i} yAxisId="m" x1={subOld[i]} x2={subYoung[i]} y1={0} y2={1}
            fill="#fff" fillOpacity={1} stroke="#000" strokeWidth={1.5}
            label={{ value: n, position: 'center', fontSize: 17, fontWeight: 700, fill: '#000', fontFamily: FONT_N }} />
        ))}
      </Panel>

      {/* Sapropels */}
      <Panel top={131} height={12}>
        <YAxis yAxisId="s" hide domain={[0, 1]} />
        {anchor('sapAnchor', 's', sapOld, 0.5)}
        {sapOld.map((o, i) => (
          <ReferenceArea key={'sap' + i} yAxisId="s" x1={o} x2={sapYoung[i]} y1={0} y2={1} fill={GREEN} fillOpacity={1} stroke="none" radius={2} />
        ))}
      </Panel>

      {/* LC21 */}
      <Panel top={137} height={110} leftW={60}>
        {yAx({ id: 'l', side: 'left', domain: [-4, 4], reversed: true, ticks: [-4, -2, 0, 2, 4], labels: [-4, 0, 4], color: RED })}
        {line('lc21', 'l', lc21, RED, 1.6)}
      </Panel>

      {/* SL71 */}
      <Panel top={228} height={109} rightW={60}>
        {yAx({ id: 'r', side: 'right', domain: [0.5, 4], reversed: true, ticks: [0.5, 1, 1.5, 2, 2.5, 3, 3.5, 4], labels: [1, 2, 3, 4], color: '#000' })}
        <Area yAxisId="r" data={toRows(sl71Fill)} dataKey="v" type="linear" baseValue={SL71_FILL_LEVEL} stroke="none"
          fill="#1a7fe0" fillOpacity={1} isAnimationActive={false} dot={false} />
        {line('sl71', 'r', sl71, '#000', 1.6)}
      </Panel>

      {/* Sahara PCA ODP 967 */}
      <Panel top={302} height={107} leftW={60}>
        <defs>
          <linearGradient id="pcaSplit" x1="0" y1="0" x2="0" y2="1">
            <stop offset={pcaOff} stopColor="#1a7fe0" />
            <stop offset={pcaOff} stopColor="#b8001f" />
          </linearGradient>
        </defs>
        {yAx({ id: 'l', side: 'left', domain: [-6, 6], ticks: [-6, -4, -2, 0, 2, 4, 6], labels: [-4, 0, 4], color: '#000' })}
        <ReferenceLine yAxisId="l" y={0} stroke="#f2b3c0" strokeWidth={2} />
        <Area yAxisId="l" data={toRows(pca)} dataKey="v" type="linear" baseValue={0} stroke="#000" strokeWidth={1.3}
          fill="url(#pcaSplit)" fillOpacity={1} isAnimationActive={false} dot={false} />
      </Panel>

      {/* Soreq */}
      <Panel top={393} height={107} rightW={60}>
        {yAx({ id: 'r', side: 'right', domain: [-10, -2], reversed: true, ticks: [-10, -8, -6, -4, -2], labels: [-8, -4], color: BLUE })}
        {line('soreq', 'r', soreq, BLUE, 2)}
      </Panel>

      {/* Age compilations */}
      <Panel top={505} height={330} maxKa={400}>
        <YAxis yAxisId="r" dataKey="r" hide domain={[0, 66]} reversed />
        {susahOld.map((o, i) => (
          <ReferenceArea key={'susah' + i} yAxisId="r" x1={o} x2={susahYoung[i]} y1={2.2} y2={3.6} fill={GREEN} fillOpacity={1} stroke="none" radius={1.5} />
        ))}
        {ageBars('np', negevPalaeo, BROWN)}
        {ageBars('ns', negevSpeleo, '#000')}
        {ageBars('na', nArabian, RED)}
        {ageBars('ca', cArabian, GREEN)}
        {ageBars('sa', sArabian, BLUE)}
      </Panel>

      {/* Hoti Cave */}
      <Panel top={700} height={110} leftW={60}>
        {yAx({ id: 'l', side: 'left', domain: [-10, -2], reversed: true, ticks: [-10, -8, -6, -4, -2], labels: [-8, -4], color: RED })}
        {anchor('hotiAnchor', 'l', hotiAge, -6)}
        {boxPlots('hoti', 'l', hotiAge, hotiLow, hotiQ1, hotiMed, hotiQ3, hotiHigh, '#c8102e', '#3a0008')}
      </Panel>

      {/* Ti/Ca + Hematite KL09 */}
      <Panel top={863} height={110} leftW={60} rightW={60}>
        {yAx({ id: 'l', side: 'left', domain: [0, 0.08], reversed: true, ticks: [0, 0.02, 0.04, 0.06, 0.08], labels: [0, 0.04, 0.08], color: '#000' })}
        {yAx({ id: 'r', side: 'right', domain: [0, 1.2], reversed: true, ticks: [0, 0.2, 0.4, 0.6, 0.8, 1, 1.2], labels: [0, 0.4, 0.8, 1.2], color: RED })}
        {line('hem', 'r', hematite, RED, 1.6)}
        {line('tica', 'l', tiCa, '#000', 1.3)}
      </Panel>

      {/* KL11 */}
      <Panel top={1011.7} height={105} rightW={60}>
        {yAx({ id: 'r', side: 'right', domain: [0, 40], reversed: true, ticks: [0, 10, 20, 30, 40], labels: [0, 20, 40], color: TEAL })}
        {line('kl11', 'r', kl11, TEAL, 1.6)}
      </Panel>

      {/* ODP 721/722 */}
      <Panel top={1081.7} height={108.3} leftW={60}>
        {yAx({ id: 'l', side: 'left', domain: [10, 60], reversed: true, ticks: [10, 20, 30, 40, 50, 60], labels: [20, 40, 60], color: '#000' })}
        {line('odp', 'l', odp, '#000', 1.5)}
      </Panel>

      {/* Mukalla Cave */}
      <Panel top={1172.7} height={108} rightW={60}>
        {yAx({ id: 'r', side: 'right', domain: [-16, 0], reversed: true, ticks: [-16, -12, -8, -4, 0], labels: [-16, -8, 0], color: BLUE, fmt: (v: number) => (v === 0 ? '-0' : String(v)) })}
        {anchor('mukAnchor', 'r', mukAge, -8)}
        {boxPlots('muk', 'r', mukAge, mukLow, mukQ1, mukMed, mukQ3, mukHigh, '#1e78d8', '#0b2f5e')}
      </Panel>

      {/* KL15 */}
      <Panel top={1245} height={108.3} leftW={60}>
        {yAx({ id: 'l', side: 'left', domain: [0, 20], reversed: true, ticks: [0, 4, 8, 12, 16, 20], labels: [0, 8, 16], color: NAVY })}
        {line('kl15', 'l', kl15, NAVY, 1.6)}
      </Panel>

      {/* RC09-166 */}
      <Panel top={1300} height={108.3} rightW={60}>
        {yAx({ id: 'r', side: 'right', domain: [-150, -100], reversed: true, ticks: [-150, -140, -130, -120, -110, -100], labels: [-140, -120, -100], color: GREEN })}
        {line('rc09', 'r', rc09, '#2e8b22', 1.6)}
      </Panel>

      {/* Insolation */}
      <Panel top={1372.7} height={109} leftW={60}>
        {yAx({ id: 'l', side: 'left', domain: [400, 520], ticks: [400, 420, 440, 460, 480, 500, 520], labels: [400, 440, 480, 520], color: ORANGE })}
        {line('ins', 'l', insolation, ORANGE, 1.8, 'monotone')}
      </Panel>

      {/* Precession & eccentricity */}
      <Panel top={1518.3} height={108.4} leftW={60} rightW={60}>
        {yAx({ id: 'l', side: 'left', domain: [-0.06, 0.06], reversed: true, ticks: [-0.06, -0.04, -0.02, 0, 0.02, 0.04, 0.06], labels: [-0.04, 0, 0.04], color: BLUE })}
        {yAx({ id: 'r', side: 'right', domain: [0.01, 0.05], ticks: [0.01, 0.02, 0.03, 0.04, 0.05], labels: [0.02, 0.04], color: '#b3143c' })}
        {line('ecc', 'r', eccentricity, '#b3143c', 2, 'natural')}
        {line('prec', 'l', precession, '#2b90e8', 1.8, 'monotone')}
      </Panel>

      {/* LR04 */}
      <Panel top={1663.3} height={178.5} leftW={60}
        xAxis={<XAxis xAxisId={0} type="number" dataKey="a" domain={[0, 350]} reversed ticks={axisTicks} interval={0}
          tickSize={20} tickMargin={14} height={70} allowDataOverflow
          tick={makeTick((v: number) => (v % 50 === 0 ? String(v) : ''), 26, 'hanging')}
          axisLine={{ stroke: '#000', strokeWidth: 2 }} tickLine={{ stroke: '#000', strokeWidth: 2 }} />}>
        <defs>
          <linearGradient id="lrGrad" x1="0" y1="0" x2="0" y2="1">
            <stop offset="0" stopColor="#c4002a" />
            <stop offset="0.35" stopColor="#a01a52" />
            <stop offset="0.62" stopColor="#6a3c98" />
            <stop offset="0.82" stopColor="#2e62d6" />
            <stop offset="1" stopColor="#1884f2" />
          </linearGradient>
        </defs>
        {yAx({ id: 'l', side: 'left', domain: [2.8, 5.2], reversed: true, ticks: [2.8, 3.2, 3.6, 4, 4.4, 4.8], labels: [3.2, 4, 4.8], color: '#000' })}
        <Area yAxisId="l" data={toRows(lr04)} dataKey="v" type="linear" baseValue={5.2} stroke="#000" strokeWidth={1.2}
          fill="url(#lrGrad)" fillOpacity={1} isAnimationActive={false} dot={false} />
      </Panel>

      {/* labels & titles overlay */}
      <svg width={917} height={1872} style={{ position: 'absolute', left: 0, top: 0, pointerEvents: 'none' }}>
        <rect x={386} y={166} width={56} height={40} fill="#fff" />
        <rect x={342} y={238} width={60} height={30} fill="#fff" />
        <rect x={368} y={416} width={62} height={30} fill="#fff" />
        <rect x={384} y={505} width={194} height={32} fill="#fff" />
        <rect x={56} y={547} width={230} height={31} fill="#fff" />
        <rect x={498} y={926} width={64} height={32} fill="#fff" />
        <rect x={486} y={1140} width={134} height={30} fill="#fff" />
        <rect x={252} y={1341} width={107} height={32} fill="#fff" />

        <Lbl x={710} y={137} color={GREEN}>Sapropels</Lbl>
        <Lbl x={413} y={188} color={RED} anchor="middle">LC21</Lbl>
        <Lbl x={371} y={251} anchor="middle">SL71</Lbl>
        <Lbl x={701} y={358}>ODP 967</Lbl>
        <Lbl x={399} y={432} color={BLUE} anchor="middle">Soreq</Lbl>
        <Lbl x={480} y={521} color={GREEN} anchor="middle">Susah speleo. ages</Lbl>
        <Lbl x={171} y={562} color={BROWN} anchor="middle">Negev palaeosol. ages</Lbl>
        <Lbl x={705} y={617}>Negev speleo. ages</Lbl>
        <Lbl x={702} y={670} color={RED}>N. Arabian lake ages</Lbl>
        <Lbl x={716} y={710} color={GREEN}>C. Arabian lake ages</Lbl>
        <Lbl x={718} y={763} color={RED}>Hoti Cave</Lbl>
        <Lbl x={713} y={817} color={BLUE}>S. Arabian lake ages</Lbl>
        <Lbl x={530} y={942} anchor="middle">KL 09</Lbl>
        <Lbl x={91} y={1043} color={TEAL}>KL 11</Lbl>
        <Lbl x={553} y={1155} anchor="middle">ODP 721/722</Lbl>
        <Lbl x={20} y={1218} color={BLUE}>Mukalla Cave</Lbl>
        <Lbl x={608} y={1290} color={NAVY}>KL 15</Lbl>
        <Lbl x={305} y={1357} color="#2e8b22" anchor="middle">RC09-166</Lbl>
        <Lbl x={710} y={1437} color={ORANGE}>15<tspan fontSize={12} dy={-8}>o</tspan><tspan dy={8}>N</tspan></Lbl>
        <Lbl x={608} y={1700}>LR04</Lbl>

        {lrStageNames.map((n, i) => (
          <Lbl key={'lr' + i} x={px(lrStageAge[i])} y={1757} color="#fff" anchor="middle" size={25}>{n}</Lbl>
        ))}
        {lrSubNames.map((n, i) => (
          <Lbl key={'lrs' + i} x={px(lrSubAge[i])} y={1735} color="#fff" anchor="middle" size={25} weight={400}>{n}</Lbl>
        ))}

        <Lbl x={425} y={1856} anchor="middle" size={32}>Age (ka)</Lbl>

        <DeltaO x={80} y={192} sub="G. ruber" />
        <VT x={36} y={356} size={19}>
          <tspan fill={BLUE}>Wet(+)</tspan><tspan fill="#000">/</tspan><tspan fill={RED}>dry(-)</tspan>
        </VT>
        <VT x={57} y={356} size={19}>Sahara PCA</VT>
        <VT x={772} y={283} size={20}>Kln/Chl</VT>
        <DeltaO x={781} y={452} sub="ca" />
        <DeltaO x={75} y={755} sub="ca" />
        <VT x={55} y={918} size={20}>Ti/Ca</VT>
        <VT x={776} y={918} size={20}>Hematite</VT>
        <VT x={790} y={1064} size={19}>Median</VT>
        <VT x={810} y={1064} size={19}>grain-size</VT>
        <VT x={830} y={1064} size={19}>(μm)</VT>
        <VT x={34} y={1136} size={19}>Terrigenous</VT>
        <VT x={56} y={1136} size={19}>dust (%)</VT>
        <DeltaO x={801} y={1225} sub="ca" />
        <VT x={22} y={1300} size={19}>Median</VT>
        <VT x={43} y={1300} size={19}>grain-size</VT>
        <VT x={64} y={1300} size={19}>(μm)</VT>
        <VT x={810} y={1360} size={22}>
          <tspan fontSize={15} fontWeight={400} fill="#555">δ</tspan>
          <tspan fontSize={22} fontStyle="italic">D</tspan>
          <tspan fontSize={12} fontWeight={400} dy={5}>leaf-wax</tspan>
          <tspan fontSize={18} dy={-13}>{' ‰'}</tspan>
        </VT>
        <VT x={34} y={1430} size={19}>Insolation</VT>
        <VT x={57} y={1430} size={19}>(W/m<tspan fontSize={12} dy={-7}>2</tspan><tspan dy={7}>)</tspan></VT>
        <VT x={38} y={1572} size={19}>Precession</VT>
        <VT x={808} y={1574} size={19}>Eccentricity</VT>
        <DeltaO x={56} y={1706} sub="benthic" />
      </svg>
    </div>
  );
}
